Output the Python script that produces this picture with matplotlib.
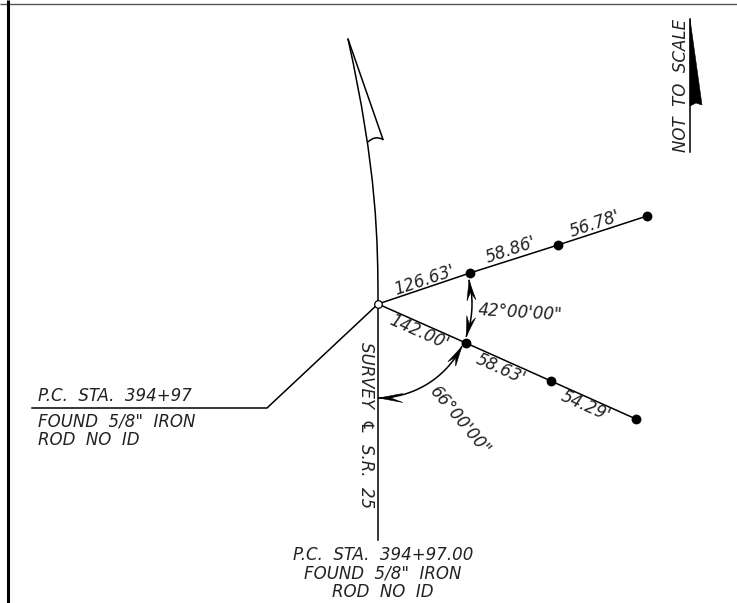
import numpy as np
import matplotlib
matplotlib.use("Agg")
import matplotlib.pyplot as plt
from matplotlib.patches import Polygon, PathPatch
from matplotlib.path import Path

FONT = ['DejaVu Sans']
plt.rcParams['font.family'] = FONT

# --- drawing data (reference pixel space) ---
origin = (378, 304)
upper_pts = [(470, 273), (558, 245), (647, 216)]
lower_pts = [(466, 343), (551, 381), (636, 419)]
centerline_x = [378, 378]
centerline_y = [304, 540]
leader_x = [32, 267, 378]
leader_y = [408, 408, 304]
labels = [
    ("126.63'", 424, 280, 18.5),
    ("58.86'", 511, 250, 18.5),
    ("56.78'", 595, 224, 18.5),
    ("142.00'", 419, 332, -24),
    ("58.63'", 501, 369, -24),
    ("54.29'", 586, 406, -24),
    ("42\u00b000'00\"", 520, 313, -3.5),
    ("66\u00b000'00\"", 460, 421, -50),
    ("SURVEY  \u2104  S.R.  25", 366, 425, -90),
    ("NOT  TO  SCALE", 681, 85, 90),
]
left_note = ["P.C.  STA.  394+97", "FOUND  5/8\"  IRON", "ROD  NO  ID"]
left_note_y = [396, 421, 440]
bottom_note = ["P.C.  STA.  394+97.00", "FOUND  5/8\"  IRON", "ROD  NO  ID"]
bottom_note_y = [555, 574, 592]

fig = plt.figure(figsize=(7.37, 6.03), dpi=100)
ax = fig.add_axes([0, 0, 1, 1])
ax.set_xlim(0, 737)
ax.set_ylim(603, 0)
ax.axis('off')

LW = 1.1
K = 'black'

# frame
ax.plot([0, 737], [3.5, 3.5], color='#555555', lw=1.0, solid_capstyle='butt')
ax.plot([8.5, 8.5], [0, 603], color=K, lw=2.2, solid_capstyle='butt')

# lines
ax.plot(centerline_x, centerline_y, color=K, lw=LW)
ax.plot(leader_x, leader_y, color=K, lw=LW)
for pts in (upper_pts, lower_pts):
    xs = [origin[0]] + [p[0] for p in pts]
    ys = [origin[1]] + [p[1] for p in pts]
    ax.plot(xs, ys, color=K, lw=LW)
    ax.scatter(xs[1:], ys[1:], s=50, color=K, zorder=4, linewidths=0)
ax.scatter(*origin, s=30, facecolor='white', edgecolor=K, linewidths=0.9, zorder=5)

# north arrow curve and barb
north = Path([(378, 304), (378, 240), (377, 170), (348, 39)],
             [Path.MOVETO, Path.CURVE4, Path.CURVE4, Path.CURVE4])
ax.add_patch(PathPatch(north, fill=False, edgecolor=K, lw=LW))
ax.plot([348, 383], [39, 139.5], color=K, lw=LW)
barb = Path([(383, 139.5), (375, 135), (368, 142)],
            [Path.MOVETO, Path.CURVE3, Path.CURVE3])
ax.add_patch(PathPatch(barb, fill=False, edgecolor=K, lw=LW))

# not to scale arrow
ax.plot([690, 690], [19, 152], color=K, lw=LW)
ax.add_patch(Polygon([(690, 19), (702, 105), (696, 103), (690, 106)],
                     closed=True, facecolor=K, edgecolor=K, lw=0.4))


def arc_pts(a0, a1, r, n=60):
    t = np.radians(np.linspace(a0, a1, n))
    return origin[0] + r * np.cos(t), origin[1] + r * np.sin(t)


def head(tip, angle, length=20, half=4.5, notch=12):
    a = np.radians(angle)
    d = np.array([np.cos(a), np.sin(a)])
    n = np.array([-d[1], d[0]])
    tip = np.array(tip, float)
    p = [tip, tip - length * d + half * n, tip - notch * d, tip - length * d - half * n]
    ax.add_patch(Polygon(p, closed=True, facecolor=K, edgecolor=K, lw=0.4, zorder=3))


# 42 degree arc
x, y = arc_pts(-14.5, 20, 94)
ax.plot(x, y, color=K, lw=LW)
head((x[0], y[0]), -97)
head((x[-1], y[-1]), 104)
# 66 degree arc
x, y = arc_pts(27, 89.5, 94)
ax.plot(x, y, color=K, lw=LW)
head((x[0], y[0]), -60)
head((x[-1], y[-1]), 180, length=24)

FS = 12
tkw = dict(fontsize=FS, style='italic', color='#222222', family=FONT)
for s, tx, ty, rot in labels:
    ax.text(tx, ty, s, rotation=rot, rotation_mode='anchor', ha='center', va='center', **tkw)
for s, ty in zip(left_note, left_note_y):
    ax.text(38, ty, s, ha='left', va='center', **tkw)
for s, ty in zip(bottom_note, bottom_note_y):
    ax.text(383, ty, s, ha='center', va='center', **tkw)

fig.savefig('out.png', dpi=100)
